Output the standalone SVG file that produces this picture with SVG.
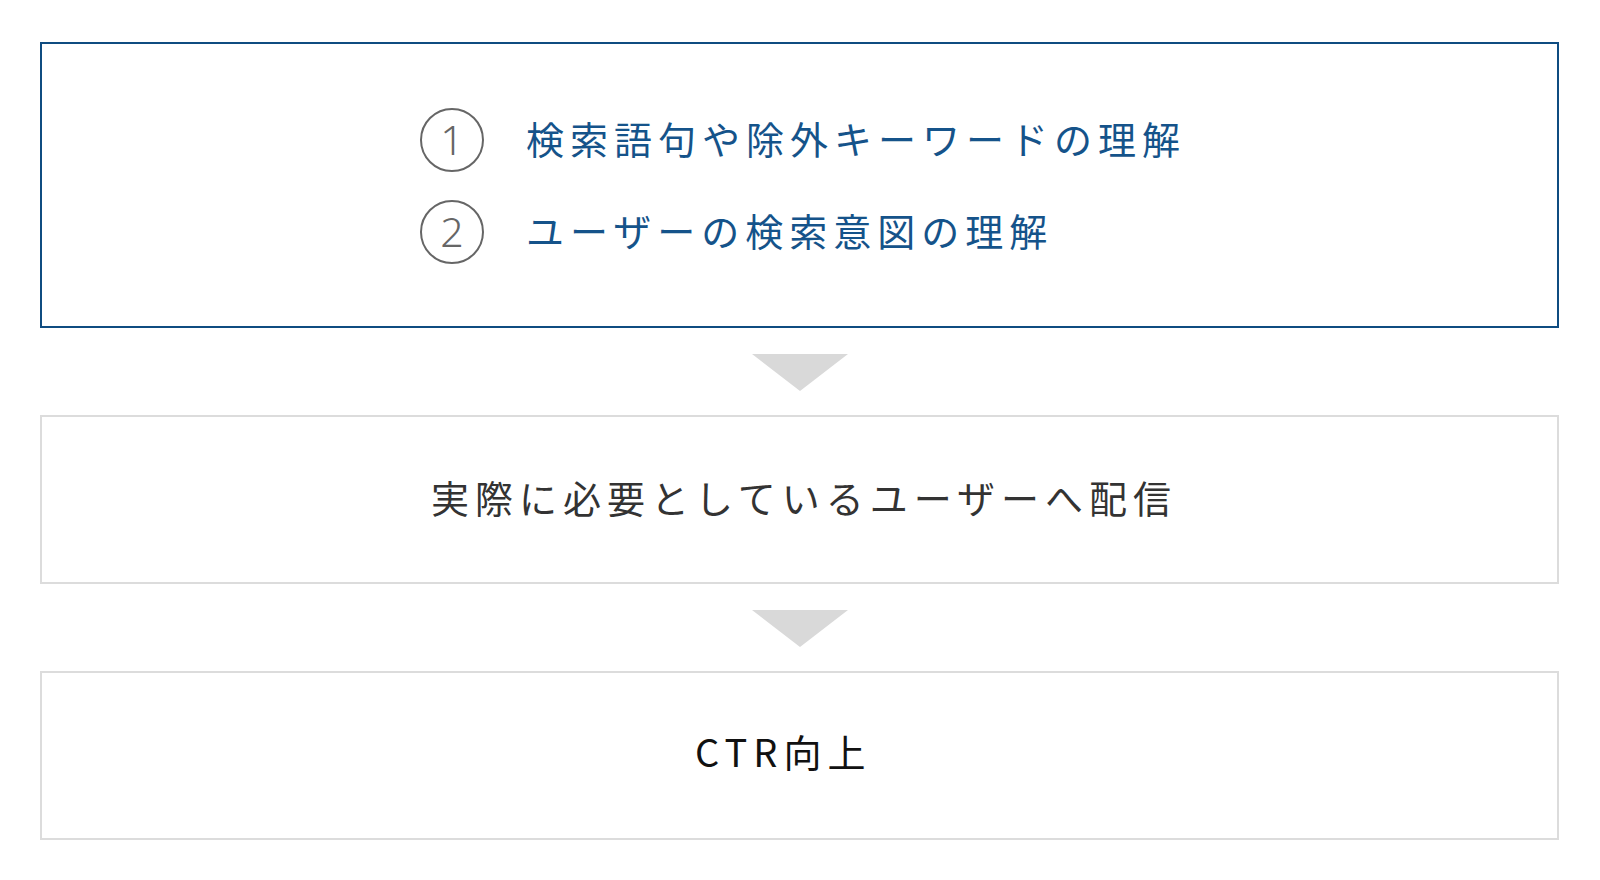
<svg xmlns="http://www.w3.org/2000/svg" width="1600" height="880" viewBox="0 0 1600 880">
<style>
.t{font-family:"Noto Sans CJK JP","Noto Sans",sans-serif;font-size:38px;letter-spacing:6px}
.blue{fill:#15538a}
.num{font-family:"Noto Sans","Noto Sans CJK JP",sans-serif;font-size:41px;fill:#666;text-anchor:middle;font-weight:300}
.circ{fill:none;stroke:#666;stroke-width:2}
.gbox{fill:#fff;stroke:#dcdcdc;stroke-width:2}
.arr{fill:#d9d9d9}
</style>
<rect width="1600" height="880" fill="#fff"/>
<g id="node1">
<rect x="41" y="43" width="1517" height="284" fill="#fff" stroke="#0f4c81" stroke-width="2"/>
<circle class="circ" cx="452" cy="140" r="31"/>
<text class="num" x="452" y="155">1</text>
<text class="t blue" x="526" y="154">検索語句や除外キーワードの理解</text>
<circle class="circ" cx="452" cy="232" r="31"/>
<text class="num" x="452" y="247">2</text>
<text class="t blue" x="526" y="246">ユーザーの検索意図の理解</text>
</g>
<g id="node2">
<rect class="gbox" x="41" y="416" width="1517" height="167"/>
<text class="t" x="431" y="513" fill="#333" letter-spacing="5.7">実際に必要としているユーザーへ配信</text>
</g>
<g id="node3">
<rect class="gbox" x="41" y="672" width="1517" height="167"/>
<text class="t" x="695" y="767" fill="#111" letter-spacing="7.2">CTR向上</text>
</g>
<g id="connectors">
<polygon class="arr" points="752,354 848,354 800,391"/>
<polygon class="arr" points="752,610 848,610 800,647"/>
</g>
</svg>
